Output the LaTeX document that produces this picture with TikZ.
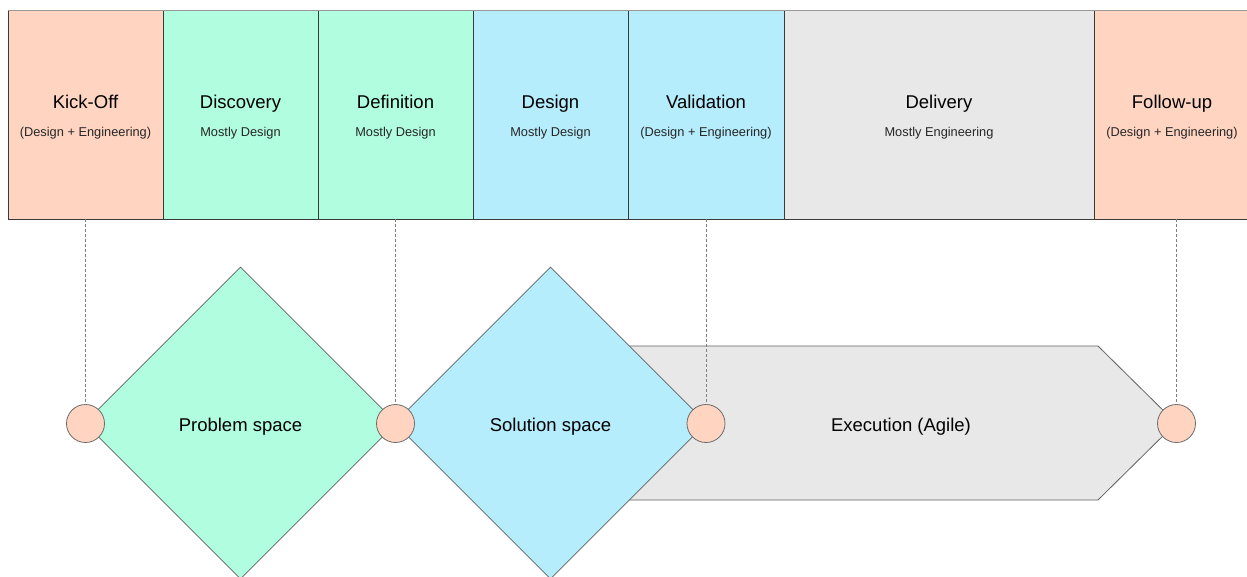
\documentclass[tikz,border=0pt]{standalone}
\usepackage{fontspec}
\setmainfont{Liberation Sans}
\usetikzlibrary{shapes.geometric}
\definecolor{peach}{HTML}{FFD5C2}
\definecolor{mint}{HTML}{B0FEDF}
\definecolor{sky}{HTML}{B5EDFC}
\definecolor{lgrey}{HTML}{E8E8E8}
\definecolor{edge}{HTML}{3A3A3A}
\tikzset{
  phase/.style={draw=edge, line width=1pt, anchor=north west, minimum height=209pt, inner sep=0pt, outer sep=0pt},
  title/.style={font=\fontsize{18.5}{20}\selectfont, text=black, inner sep=0pt, anchor=base},
  sub/.style={font=\fontsize{12.8}{14}\selectfont, text=black!85, inner sep=0pt, anchor=base},
  space/.style={diamond, aspect=1, draw=edge!80, line width=0.8pt, minimum width=312pt, minimum height=312pt, inner sep=0pt},
  dot/.style={circle, fill=peach, draw=edge!75, line width=0.8pt, minimum size=38pt, inner sep=0pt},
  guide/.style={draw=gray, line width=0.8pt, dash pattern=on 3pt off 2pt},
  big/.style={font=\fontsize{18.5}{20}\selectfont, inner sep=0pt, anchor=base}
}
\begin{document}
\begin{tikzpicture}[x=1pt, y=-1pt]
\useasboundingbox (0,0) rectangle (1247,576);
% phases
\node[phase, fill=peach, minimum width=155pt] (p1) at (8,10) {};
\node[phase, fill=mint, minimum width=155pt] (p2) at (163,10) {};
\node[phase, fill=mint, minimum width=155pt] (p3) at (318,10) {};
\node[phase, fill=sky, minimum width=155pt] (p4) at (473,10) {};
\node[phase, fill=sky, minimum width=156pt] (p5) at (628,10) {};
\node[phase, fill=lgrey, minimum width=310pt] (p6) at (784,10) {};
\node[phase, fill=peach, minimum width=165pt] (p7) at (1094,10) {};
\draw[gray!80, line width=1pt] (p1.north west) -- (p7.north east);
% titles
\node[title] (t1) at (85.5,108) {Kick-Off};
\node[sub] (s1) at (85.5,136.5) {(Design + Engineering)};
\node[title] (t2) at (240.5,108) {Discovery};
\node[sub] (s2) at (240.5,136.5) {Mostly Design};
\node[title] (t3) at (395.5,108) {Definition};
\node[sub] (s3) at (395.5,136.5) {Mostly Design};
\node[title] (t4) at (550.5,108) {Design};
\node[sub] (s4) at (550.5,136.5) {Mostly Design};
\node[title] (t5) at (706,108) {Validation};
\node[sub] (s5) at (706,136.5) {(Design + Engineering)};
\node[title] (t6) at (939,108) {Delivery};
\node[sub] (s6) at (939,136.5) {Mostly Engineering};
\node[title] (t7) at (1172,108) {Follow-up};
\node[sub] (s7) at (1172,136.5) {(Design + Engineering)};
% execution arrow
\coordinate (e1) at (600,346);
\coordinate (e2) at (1098,346);
\coordinate (e3) at (1176,423);
\coordinate (e4) at (1098,500);
\coordinate (e5) at (600,500);
\draw[fill=lgrey, draw=edge!80, line width=0.8pt] (e1) -- (e2) -- (e3) -- (e4) -- (e5) -- cycle;
\node[big] (ex) at (901,431) {Execution (Agile)};
% diamonds
\node[space, fill=mint] (prob) at (240.5,423) {};
\node[space, fill=sky] (sol) at (550.5,423) {};
\node[big] (pl) at (240.5,431) {Problem space};
\node[big] (sl) at (550.5,431) {Solution space};
% milestones
\node[dot] (m1) at (85.5,423.5) {};
\node[dot] (m2) at (395.5,423.5) {};
\node[dot] (m3) at (706,423.5) {};
\node[dot] (m4) at (1176.5,423.5) {};
% guides
\draw[guide] (m1.north |- p1.south) -- (m1.north);
\draw[guide] (m2.north |- p3.south) -- (m2.north);
\draw[guide] (m3.north |- p5.south) -- (m3.north);
\draw[guide] (m4.north |- p7.south) -- (m4.north);
\end{tikzpicture}
\end{document}
